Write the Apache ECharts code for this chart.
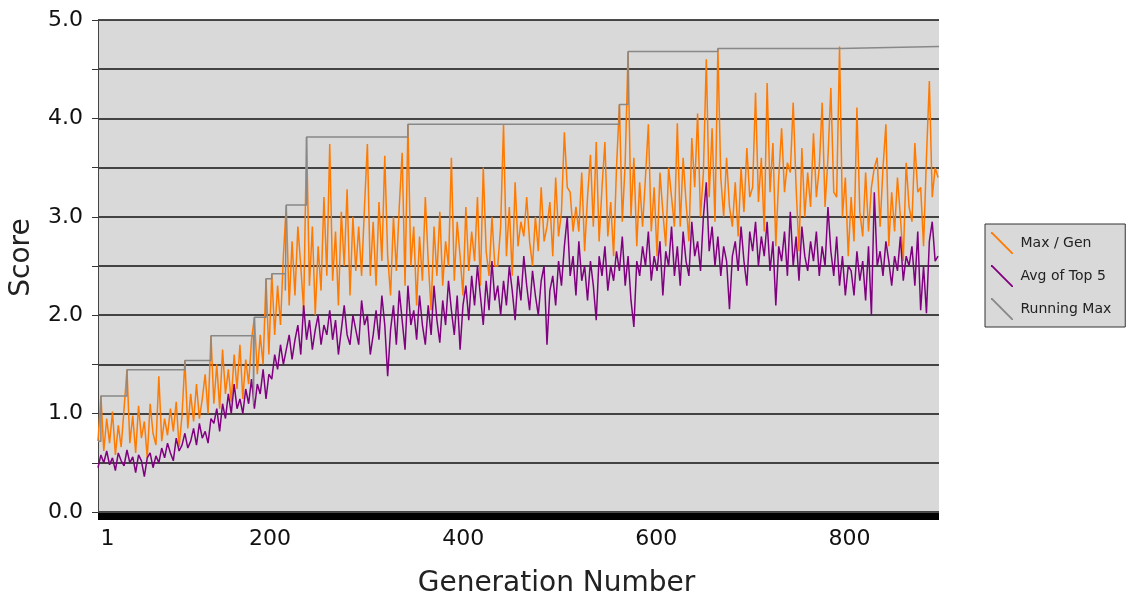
<!DOCTYPE html>
<html>
<head>
<meta charset="utf-8">
<title>Score per generation</title>
<script src="https://cdn.jsdelivr.net/npm/echarts@6.0.0/dist/echarts.min.js"></script>
<style>
  html, body { margin: 0; padding: 0; background: #fff; }
  #chart { width: 1131px; height: 603px; }
</style>
</head>
<body>
<div id="chart"></div>
<script>
// one sample every genStep generations
const genStep = 3
const lastGen = 871

const maxPerGen = [
  0.72, 1.18, 0.62, 0.95, 0.7, 1.02, 0.58, 0.88, 0.66, 1.05,
  1.445, 0.7, 0.98, 0.6, 1.08, 0.75, 0.92, 0.55, 1.1, 0.8,
  0.68, 1.38, 0.72, 0.95, 0.78, 1.05, 0.82, 1.12, 0.66, 0.98,
  1.54, 0.85, 1.2, 0.92, 1.3, 0.95, 1.15, 1.4, 1.0, 1.79,
  1.1, 1.5, 1.05, 1.65, 1.2, 1.45, 1.12, 1.6, 1.25, 1.7,
  1.15, 1.55, 1.3, 1.75, 1.98, 1.4, 1.8, 1.5, 2.37, 1.6,
  2.42, 1.8, 2.3, 1.9, 2.6, 3.12, 2.1, 2.75, 2.2, 2.9,
  2.5, 2.05, 3.81, 2.3, 2.9, 2.0, 2.7, 2.25, 3.2, 2.4,
  3.74, 2.35, 2.85, 2.1, 3.05, 2.5, 3.28, 2.2, 3.0, 2.45,
  2.9, 2.4, 3.1, 3.74, 2.4, 2.95, 2.3, 3.15, 2.55, 3.62,
  2.6, 2.2, 3.0, 2.45, 3.1, 3.65, 2.3, 3.94, 2.5, 2.9,
  2.1, 2.8, 2.35, 3.2, 2.55, 2.05, 2.9, 2.4, 3.05, 2.3,
  2.75, 2.5, 3.6, 2.35, 2.95, 2.6, 2.2, 3.1, 2.45, 2.85,
  2.55, 3.2, 2.3, 3.5, 2.65, 2.4, 3.0, 2.5, 2.5, 2.9,
  3.94, 2.6, 3.1, 2.4, 3.35, 2.7, 2.95, 2.8, 3.2, 2.75,
  2.5, 3.0, 2.65, 3.3, 2.75, 2.9, 3.15, 2.6, 3.4, 2.8,
  3.05, 3.86, 3.3, 3.25, 2.85, 3.1, 2.85, 3.45, 2.65, 3.2,
  3.63, 2.9, 3.76, 2.75, 3.3, 3.76, 2.8, 3.15, 2.6, 3.5,
  4.14, 2.95, 3.55, 4.68, 3.0, 3.6, 2.7, 3.35, 2.9, 3.4,
  3.94, 2.85, 3.3, 2.6, 3.45, 3.05, 2.7, 3.5, 3.2, 2.9,
  3.95, 2.9, 3.6, 3.15, 2.75, 3.8, 3.3, 4.05, 3.0, 3.45,
  4.6, 3.2, 3.9, 2.95, 4.71, 3.4, 3.0, 3.6, 3.1, 2.9,
  3.35, 2.8, 3.5, 3.05, 3.7, 3.2, 3.3, 4.26, 3.15, 3.6,
  2.85, 4.36, 3.25, 3.75, 2.7, 3.4, 3.9, 3.25, 3.55, 3.45,
  4.16, 3.3, 2.65, 3.7, 3.0, 3.45, 3.1, 3.85, 3.2, 3.5,
  4.16, 3.1, 3.6, 4.31, 3.25, 3.2, 4.73, 3.0, 3.4, 2.6,
  3.2, 2.75, 4.11, 3.05, 2.8, 3.45, 2.85, 3.3, 3.5, 3.6,
  2.9, 3.5, 3.94, 2.7, 3.25, 2.85, 3.4, 3.0, 2.55, 3.55,
  3.1, 2.95, 3.75, 3.25, 3.3, 2.7, 3.6, 4.38, 3.2, 3.5,
  3.4
]

const avgTop5 = [
  0.45, 0.58, 0.5, 0.62, 0.48, 0.55, 0.42, 0.6, 0.52, 0.47,
  0.63, 0.5, 0.56, 0.4, 0.58, 0.52, 0.36, 0.55, 0.6, 0.45,
  0.57, 0.5, 0.65, 0.55, 0.7, 0.6, 0.52, 0.75, 0.62, 0.68,
  0.8, 0.65, 0.72, 0.85, 0.68, 0.9, 0.75, 0.82, 0.7, 0.95,
  0.9, 1.05, 0.82, 1.1, 0.95, 1.2, 1.0, 1.3, 1.05, 1.15,
  1.0, 1.25, 1.1, 1.35, 1.05, 1.3, 1.2, 1.45, 1.15, 1.4,
  1.35, 1.6, 1.45, 1.7, 1.5, 1.65, 1.8, 1.55, 1.75, 1.9,
  1.6, 2.1, 1.75, 1.95, 1.65, 1.85, 2.0, 1.7, 1.9, 1.8,
  2.05, 1.75, 1.95, 1.6, 1.85, 2.1, 1.8, 1.7, 2.0, 1.85,
  1.7, 2.15, 1.9, 2.0, 1.6, 1.8, 2.05, 1.75, 2.2, 1.9,
  1.38, 1.85, 2.1, 1.7, 2.25, 1.95, 1.65, 2.3, 1.9, 2.05,
  1.75, 2.2, 1.9, 1.7, 2.1, 1.8, 2.3, 1.95, 1.72, 2.15,
  1.9, 2.35, 2.05, 1.8, 2.2, 1.65, 2.1, 2.3, 1.95, 2.4,
  2.1, 2.5, 2.2, 1.9, 2.35, 2.05, 2.55, 2.15, 2.3, 2.0,
  2.35, 2.1, 2.5, 2.25, 1.95, 2.4, 2.15, 2.6, 2.3, 2.05,
  2.45, 2.2, 2.0, 2.35, 2.5, 1.7, 2.25, 2.4, 2.1, 2.55,
  2.3, 2.7, 3.0, 2.4, 2.6, 2.2, 2.75, 2.35, 2.5, 2.15,
  2.55, 2.3, 1.95, 2.6, 2.4, 2.7, 2.25, 2.5, 2.35, 2.65,
  2.45, 2.8, 2.3, 2.6, 2.15, 1.88, 2.55, 2.4, 2.7, 2.5,
  2.85, 2.35, 2.6, 2.45, 2.75, 2.2, 2.65, 2.5, 2.9, 2.4,
  2.7, 2.3, 2.85, 2.55, 2.4, 2.95, 2.6, 2.75, 2.45, 3.0,
  3.35, 2.65, 2.9, 2.5, 2.8, 2.4, 2.7, 2.55, 2.06, 2.6,
  2.75, 2.45, 2.9, 2.55, 2.3, 2.85, 2.65, 2.95, 2.5, 2.8,
  2.6, 2.95, 2.45, 2.75, 2.1, 2.7, 2.55, 2.85, 2.4, 3.05,
  2.5, 2.8, 2.35, 2.9, 2.6, 2.45, 2.75, 2.55, 2.85, 2.4,
  2.7, 2.5, 3.1, 2.65, 2.4, 2.8, 2.3, 2.6, 2.2, 2.5,
  2.45, 2.2, 2.65, 2.35, 2.55, 2.15, 2.7, 2.0, 3.25, 2.5,
  2.65, 2.4, 2.75, 2.55, 2.3, 2.6, 2.45, 2.8, 2.35, 2.6,
  2.5, 2.7, 2.3, 2.85, 2.05, 2.5, 2.02, 2.75, 2.95, 2.55,
  2.6
]

// running max only changes at a few generations
const runMaxGen = [0, 3, 30, 90, 117, 161, 162, 174, 180, 194, 195, 216, 321, 540, 549, 642, 768, 871]
const runMaxVal = [0.72, 1.18, 1.445, 1.54, 1.79, 1.1, 1.98, 2.37, 2.42, 2.25, 3.12, 3.81, 3.94, 4.14, 4.68, 4.71, 4.73, 4.73]

const xLabelAt = [17, 200, 400, 600, 800]

const font = 'DejaVu Sans'
// thin diagonal used as legend icon
const diagIcon = 'path://M0,0L1.2,0L20,18.8L20,20L18.8,20L0,1.2Z'

const chart = echarts.init(document.getElementById('chart'))

chart.setOption({
  animation: false,
  textStyle: { fontFamily: font },
  grid: {
    left: 97,
    right: 192,
    top: 20,
    bottom: 90,
    show: true,
    backgroundColor: '#d9d9d9',
    borderWidth: 0
  },
  legend: {
    orient: 'vertical',
    left: 985,
    top: 224,
    padding: [8, 14, 7, 6],
    itemWidth: 27,
    itemHeight: 22,
    itemGap: 11,
    backgroundColor: '#d9d9d9',
    borderColor: '#333',
    borderWidth: 1,
    borderRadius: 0,
    selectedMode: false,
    textStyle: { fontFamily: font, fontSize: 14, color: '#222' },
    data: [
      { name: 'Max / Gen', icon: diagIcon },
      { name: 'Avg of Top 5', icon: diagIcon },
      { name: 'Running Max', icon: diagIcon }
    ]
  },
  xAxis: {
    type: 'value',
    min: 0,
    max: lastGen,
    offset: 4,
    name: 'Generation Number',
    nameLocation: 'middle',
    nameGap: 54,
    nameTextStyle: { fontFamily: font, fontSize: 28, color: '#222', padding: [0, 0, 0, 76] },
    axisLine: { show: true, onZero: false, lineStyle: { color: '#000', width: 7, cap: 'butt' } },
    axisTick: { show: false },
    splitLine: { show: false },
    axisLabel: {
      customValues: xLabelAt,
      align: 'right',
      margin: 12,
      fontFamily: font,
      fontSize: 22,
      color: '#111',
      formatter: v => (v < 100 ? '1' : String(v))
    }
  },
  yAxis: {
    type: 'value',
    min: 0,
    max: 5,
    interval: 0.5,
    name: 'Score',
    nameLocation: 'middle',
    nameGap: 62,
    nameTextStyle: { fontFamily: font, fontSize: 28, color: '#222', padding: [0, 0, 0, 17] },
    axisLine: { show: true, lineStyle: { color: '#444', width: 1 } },
    axisTick: { show: true, length: 6, lineStyle: { color: '#333' } },
    splitLine: { show: true, lineStyle: { color: '#111', width: 1.5 } },
    axisLabel: {
      margin: 15,
      fontFamily: font,
      fontSize: 22,
      color: '#111',
      formatter: v => (v % 1 === 0 ? v.toFixed(1) : '')
    }
  },
  series: [
    {
      name: 'Max / Gen',
      type: 'line',
      showSymbol: false,
      color: '#ff7a00',
      lineStyle: { width: 1.5 },
      data: maxPerGen.map((v, i) => [i * genStep, v])
    },
    {
      name: 'Avg of Top 5',
      type: 'line',
      showSymbol: false,
      color: '#800080',
      lineStyle: { width: 1.5 },
      data: avgTop5.map((v, i) => [i * genStep, v])
    },
    {
      name: 'Running Max',
      type: 'line',
      step: 'end',
      showSymbol: false,
      color: '#888',
      lineStyle: { width: 1.5 },
      data: runMaxGen.map((g, i) => [g, runMaxVal[i]])
    }
  ]
})
</script>
</body>
</html>
